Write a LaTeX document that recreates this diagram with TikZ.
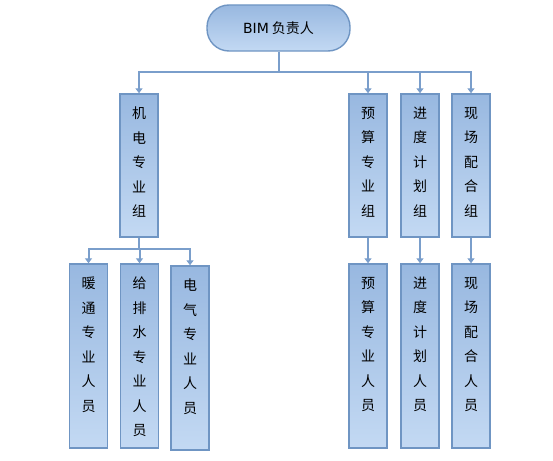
\documentclass[tikz,border=0pt]{standalone}
\usepackage{fontspec}
\setmainfont{Noto Sans CJK SC}
\newfontfamily\latinfont{DejaVu Sans}
\usetikzlibrary{arrows.meta}
\definecolor{boxtop}{HTML}{98B8E0}
\definecolor{boxbottom}{HTML}{C3D9F3}
\definecolor{boxedge}{HTML}{6F95C3}
\definecolor{linkblue}{HTML}{7A9ECB}
\newcommand{\stack}[2]{\parbox[c][#1][t]{38pt}{\centering\fontsize{14pt}{24.5pt}\selectfont\vspace*{13pt}#2}}

\begin{document}
\begin{tikzpicture}[x=1pt,y=1pt,
    unitbox/.style={draw=boxedge, line width=1.4pt, top color=boxtop, bottom color=boxbottom, inner sep=0pt, text=black},
    link/.style={draw=linkblue, line width=2pt, -{Triangle[width=7pt,length=5pt]}},
    plainlink/.style={draw=linkblue, line width=2pt}]
    \useasboundingbox (0,0) rectangle (553,-460);

    \node[unitbox, rounded corners=22pt, minimum width=143pt, minimum height=46pt, font=\fontsize{14pt}{16pt}\selectfont] (boss) at (278.5,-28) {{\latinfont BIM} 负责人};

    \node[unitbox] (mep) at (139,-165.5) {\stack{143pt}{机\\电\\专\\业\\组}};
    \node[unitbox] (budget) at (368,-165.5) {\stack{143pt}{预\\算\\专\\业\\组}};
    \node[unitbox] (schedule) at (420,-165.5) {\stack{143pt}{进\\度\\计\\划\\组}};
    \node[unitbox] (site) at (471,-165.5) {\stack{143pt}{现\\场\\配\\合\\组}};

    \node[unitbox] (hvac) at (88.5,-356) {\stack{184pt}{暖\\通\\专\\业\\人\\员}};
    \node[unitbox] (plumbing) at (139.5,-356) {\stack{184pt}{给\\排\\水\\专\\业\\人\\员}};
    \node[unitbox] (power) at (190,-358) {\stack{184pt}{电\\气\\专\\业\\人\\员}};
    \node[unitbox] (budgetstaff) at (368,-356) {\stack{184pt}{预\\算\\专\\业\\人\\员}};
    \node[unitbox] (schedulestaff) at (420,-356) {\stack{184pt}{进\\度\\计\\划\\人\\员}};
    \node[unitbox] (sitestaff) at (471,-356) {\stack{184pt}{现\\场\\配\\合\\人\\员}};

    \coordinate (hub) at (278.5,-72);
    \coordinate (subhub) at (139,-249);

    \draw[plainlink] (boss.south) -- (hub);
    \draw[link] (hub) -| (mep.north);
    \draw[link] (hub) -| (budget.north);
    \draw[link] (hub) -| (schedule.north);
    \draw[link] (hub) -| (site.north);

    \draw[plainlink] (mep.south) -- (subhub);
    \draw[link] (subhub) -| (hvac.north);
    \draw[link] (subhub) -| (plumbing.north);
    \draw[link] (subhub) -| (power.north);

    \draw[link] (budget.south) -- (budgetstaff.north);
    \draw[link] (schedule.south) -- (schedulestaff.north);
    \draw[link] (site.south) -- (sitestaff.north);
\end{tikzpicture}
\end{document}
